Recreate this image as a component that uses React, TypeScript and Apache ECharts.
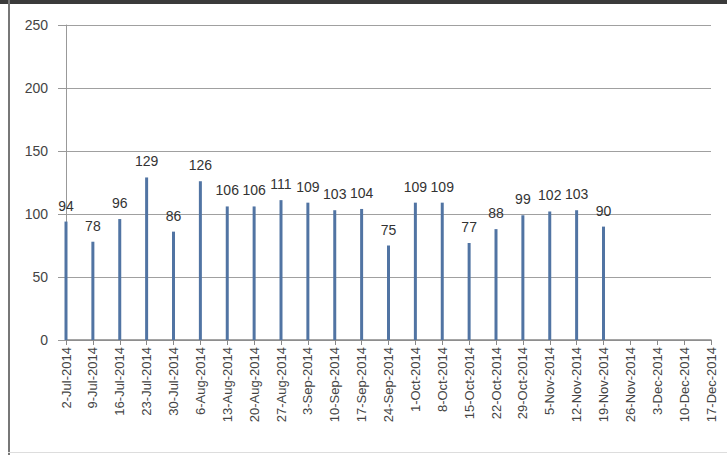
import React, { useEffect, useRef } from "react";
import * as echarts from "echarts";

const categories = [
  "2-Jul-2014", "9-Jul-2014", "16-Jul-2014", "23-Jul-2014", "30-Jul-2014",
  "6-Aug-2014", "13-Aug-2014", "20-Aug-2014", "27-Aug-2014",
  "3-Sep-2014", "10-Sep-2014", "17-Sep-2014", "24-Sep-2014",
  "1-Oct-2014", "8-Oct-2014", "15-Oct-2014", "22-Oct-2014", "29-Oct-2014",
  "5-Nov-2014", "12-Nov-2014", "19-Nov-2014", "26-Nov-2014",
  "3-Dec-2014", "10-Dec-2014", "17-Dec-2014",
];

const values: (number | null)[] = [
  94, 78, 96, 129, 86, 126, 106, 106, 111, 109, 103, 104, 75,
  109, 109, 77, 88, 99, 102, 103, 90, null, null, null, null,
];

const yTicks = { min: 0, max: 250, interval: 50 };

export default function App() {
  const ref = useRef<HTMLDivElement>(null);
  useEffect(() => {
    if (!ref.current) return;
    const chart = echarts.init(ref.current, undefined, { renderer: "svg" });
    const font = "'Liberation Sans', Arial, sans-serif";
    chart.setOption({
      animation: false,
      backgroundColor: "#ffffff",
      textStyle: { fontFamily: font },
      graphic: [
        { type: "rect", shape: { x: 0, y: 0, width: 727, height: 4 }, style: { fill: "#3a3a3a" }, silent: true },
        { type: "rect", shape: { x: 8, y: 0, width: 2, height: 455 }, style: { fill: "#777" }, silent: true },
        { type: "rect", shape: { x: 8, y: 452, width: 719, height: 1 }, style: { fill: "#ddd" }, silent: true },
      ],
      grid: { left: 66, right: 16, top: 25, bottom: 115, containLabel: false },
      xAxis: {
        type: "category",
        data: categories,
        boundaryGap: false,
        axisLine: { lineStyle: { color: "#888", width: 1.5 } },
        axisTick: { show: true, length: 5, lineStyle: { color: "#888" } },
        axisLabel: {
          rotate: 90,
          interval: 0,
          margin: 7,
          fontSize: 13,
          color: "#444",
          fontFamily: font,
        },
        splitLine: { show: false },
      },
      yAxis: {
        type: "value",
        min: yTicks.min,
        max: yTicks.max,
        interval: yTicks.interval,
        axisLine: { show: true, lineStyle: { color: "#999" } },
        axisTick: { show: true, length: 8, lineStyle: { color: "#999" } },
        axisLabel: { margin: 18, fontSize: 14, color: "#444", fontFamily: font },
        splitLine: { show: true, lineStyle: { color: "#a0a0a0", width: 1 } },
      },
      series: [
        {
          type: "bar",
          data: values,
          barWidth: 3,
          itemStyle: { color: "#5174a3" },
          label: {
            show: true,
            position: "top",
            distance: 9,
            fontSize: 14,
            color: "#333",
            fontFamily: font,
          },
        },
      ],
    });
    return () => chart.dispose();
  }, []);
  return (
    <div style={{ position: "fixed", left: 0, top: 0, width: 727, height: 455 }}>
      <div ref={ref} style={{ width: 727, height: 455 }} />
    </div>
  );
}
